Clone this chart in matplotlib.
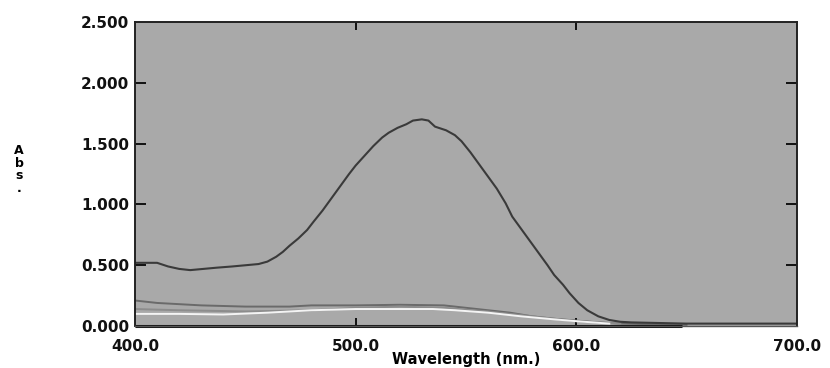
import matplotlib.pyplot as plt

# absorbance spectra, read at irregular wavelengths
main_wl = [400, 410, 415, 420, 425, 431, 437, 444, 450, 456, 460, 464, 467, 470, 474,
           478, 481, 485, 489, 493, 497, 500, 504, 508, 512, 515, 519, 523, 526, 530,
           533, 536, 541, 545, 548, 552, 556, 560, 564, 568, 571, 575, 579, 583, 587,
           590, 594, 597, 601, 605, 610, 615, 620, 625, 650, 700]
main_abs = [0.52, 0.52, 0.49, 0.47, 0.46, 0.47, 0.48, 0.49, 0.50, 0.51, 0.53, 0.57, 0.61,
            0.66, 0.72, 0.79, 0.86, 0.95, 1.05, 1.15, 1.25, 1.32, 1.40, 1.48, 1.55, 1.59,
            1.63, 1.66, 1.69, 1.70, 1.69, 1.64, 1.61, 1.57, 1.52, 1.43, 1.33, 1.23, 1.13,
            1.01, 0.90, 0.80, 0.70, 0.60, 0.50, 0.42, 0.34, 0.27, 0.19, 0.13, 0.08, 0.05,
            0.035, 0.03, 0.02, 0.02]

gray_wl = [400, 410, 430, 450, 470, 480, 500, 520, 540, 550, 560, 570, 580, 590, 600,
           610, 620, 650]
gray_abs = [0.21, 0.19, 0.17, 0.16, 0.16, 0.17, 0.17, 0.175, 0.17, 0.15, 0.13, 0.11,
            0.08, 0.06, 0.045, 0.03, 0.02, 0.01]

mid_wl = [400, 420, 450, 480, 500, 520, 540, 560, 580, 600, 620]
mid_abs = [0.14, 0.13, 0.12, 0.13, 0.15, 0.16, 0.15, 0.12, 0.08, 0.04, 0.02]

white_wl = [400, 420, 440, 460, 480, 500, 520, 535, 545, 560, 575, 590, 600, 615]
white_abs = [0.10, 0.10, 0.095, 0.11, 0.13, 0.14, 0.14, 0.14, 0.13, 0.11, 0.08, 0.055,
             0.04, 0.02]

base_wl = [400, 648]
base_abs = [0.0, 0.0]

x_ticks = [400, 500, 600, 700]
x_labels = ["400.0", "500.0", "600.0", "700.0"]
y_ticks = [0.0, 0.5, 1.0, 1.5, 2.0, 2.5]
y_labels = ["0.000", "0.500", "1.000", "1.500", "2.000", "2.500"]

plt.rcParams['font.family'] = 'DejaVu Sans'
plt.rcParams['font.weight'] = 'bold'

fig = plt.figure(figsize=(8.3, 3.68), dpi=100)
ax = fig.add_axes([0.1627, 0.114, 0.7973, 0.826])
ax.set_facecolor('#a9a9a9')

ax.plot(gray_wl, gray_abs, color='#6a6a6a', lw=1.4)
ax.plot(mid_wl, mid_abs, color='#8c8c8c', lw=1.4)
ax.plot(white_wl, white_abs, color='#f4f4f4', lw=1.4)
ax.plot(main_wl, main_abs, color='#3a3a3a', lw=1.5)
ax.plot(base_wl, base_abs, color='#111111', lw=2.2, clip_on=False, solid_capstyle='butt')

ax.set_xlim(400, 700)
ax.set_ylim(0, 2.5)

for s in ax.spines.values():
    s.set_color('#222222')
    s.set_linewidth(1.4)
ax.spines['bottom'].set_color('#555555')
ax.spines['bottom'].set_linewidth(1.0)

# tick labels on the outside, tick marks pointing into the plot
ax.set_xticks(x_ticks)
ax.set_xticklabels(x_labels, fontsize=11, fontweight='bold')
ax.set_yticks(y_ticks)
ax.set_yticklabels(y_labels, fontsize=11, fontweight='bold')
ax.tick_params(axis='both', direction='in', colors='#111111', width=1.4)
ax.tick_params(axis='x', length=6, pad=9, top=True)
ax.tick_params(axis='y', length=8, pad=4, right=True)
# no tick marks on the corner positions
for t in [ax.xaxis.get_major_ticks()[0], ax.xaxis.get_major_ticks()[-1],
          ax.yaxis.get_major_ticks()[0], ax.yaxis.get_major_ticks()[-1]]:
    t.tick1line.set_visible(False)
    t.tick2line.set_visible(False)

ax.set_xlabel("Wavelength (nm.)", fontsize=10.5, fontweight='bold', labelpad=-1)
fig.text(0.023, 0.54, "A\nb\ns\n.", ha='center', va='center', fontsize=9,
         fontweight='bold', linespacing=0.95)

fig.savefig("out.png", dpi=100, facecolor='white')
